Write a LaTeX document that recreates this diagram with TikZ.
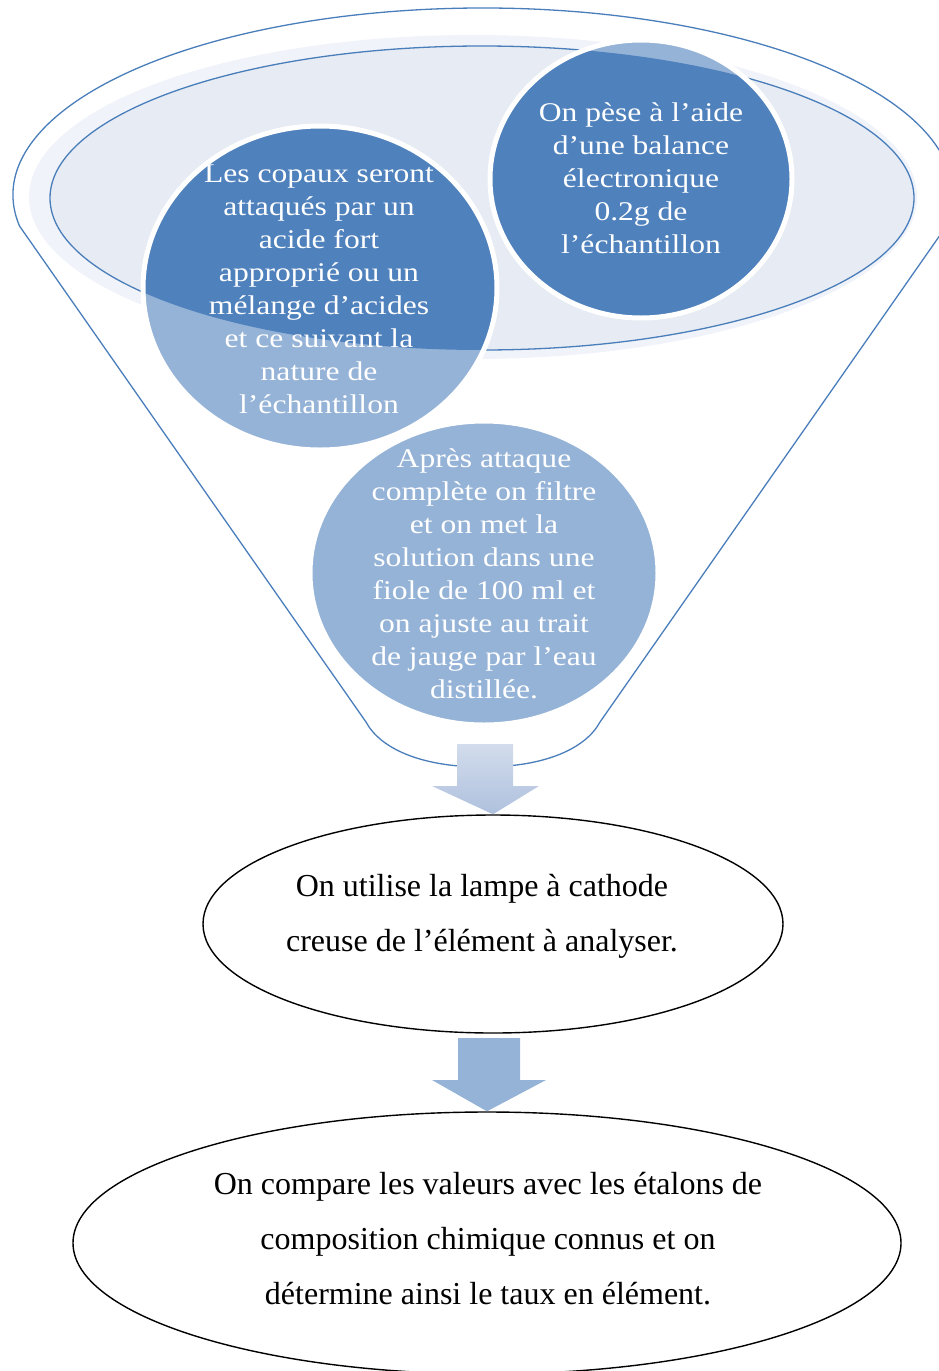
\documentclass[tikz,border=0pt]{standalone}
\usepackage{fontspec}
\setmainfont{Liberation Serif}
\newfontfamily\funnelfont[FakeStretch=1.17]{Liberation Serif}
\usetikzlibrary{shapes.geometric}
\definecolor{dk}{HTML}{4F81BD}
\definecolor{lt}{HTML}{95B3D7}
\definecolor{ellfill}{HTML}{E6EBF4}
\definecolor{halo}{HTML}{F0F3F9}
\definecolor{ln}{HTML}{4A7EBB}
\definecolor{arA}{HTML}{D2DCEC}
\definecolor{arB}{HTML}{AFC1DE}
\tikzset{
  funneltext/.style={text=white, align=center, inner sep=0pt,
    font=\funnelfont\fontsize{27}{33}\selectfont},
  steptext/.style={text=black, align=center, inner sep=0pt,
    font=\fontsize{32}{55}\selectfont},
  stepell/.style={ellipse, draw=black, line width=1.4pt, inner sep=0pt},
  rimline/.style={draw=ln, line width=1.3pt},
  whiteborder/.style={draw=white, line width=5pt},
}
\begin{document}
\begin{tikzpicture}[x=1pt,y=-1pt]
\useasboundingbox (0,0) rectangle (939,1371);
\clip (0,0) rectangle (939,1371);

% halo and inner ellipse of the funnel rim
\fill[halo] (473,197) ellipse [x radius=444, y radius=162];
\fill[ellfill] (482,198) ellipse [x radius=432, y radius=152];
\draw[rimline] (482,198) ellipse [x radius=432, y radius=152];

% funnel outline
\coordinate (fl) at (19.5,226);
\coordinate (fr) at (946.5,226);
\coordinate (bl) at (366,722);
\coordinate (br) at (600,722);
\coordinate (bm) at (483,767);
\draw[rimline] (fl) arc[start angle=170.45, end angle=369.55, x radius=470, y radius=187]
  -- (br) .. controls (586,748) and (546,767) .. (bm)
  .. controls (420,767) and (380,748) .. (bl) -- cycle;

% circles (light part)
\fill[lt] (641,179) ellipse [x radius=151, y radius=139];
\fill[lt] (320,288) ellipse [x radius=177, y radius=162];
% dark parts inside the rim ellipse
\begin{scope}
  \clip (482,198) ellipse [x radius=432, y radius=152];
  \fill[dk] (641,179) ellipse [x radius=151, y radius=139];
  \fill[dk] (320,288) ellipse [x radius=177, y radius=162];
\end{scope}
\draw[whiteborder] (641,179) ellipse [x radius=151, y radius=139];
\draw[whiteborder] (320,288) ellipse [x radius=177, y radius=162];
% third circle
\filldraw[fill=lt, whiteborder] (484,573) ellipse [x radius=174, y radius=152];

% circle texts
\node[funneltext] (t1) at (319,289) {Les copaux seront\\attaqués par un\\acide fort\\approprié ou un\\mélange d’acides\\et ce suivant la\\nature de\\l’échantillon};
\node[funneltext] (t2) at (641,178) {On pèse à l’aide\\d’une balance\\électronique\\0.2g de\\l’échantillon};
\node[funneltext] (t3) at (484,574) {Après attaque\\complète on filtre\\et on met la\\solution dans une\\fiole de 100 ml et\\on ajuste au trait\\de jauge par l’eau\\distillée.};

% step ellipses
\node[stepell, minimum width=580pt, minimum height=218pt] (m) at (493,924) {};
\node[steptext] (mt) at (482,916) {On utilise la lampe à cathode\\creuse de l’élément à analyser.};
\node[stepell, minimum width=828pt, minimum height=262pt] (b) at (487,1243) {};
\node[steptext] (bt) at (488,1239) {On compare les valeurs avec les étalons de\\composition chimique connus et on\\détermine ainsi le taux en élément.};

% block arrows
\shade[top color=arA, bottom color=arB]
  (457,744) -- (513,744) -- (513,786) -- (539,786) -- (m.north) -- (432,786) -- (457,786) -- cycle;
\fill[lt]
  (458,1038) -- (520,1038) -- (520,1080) -- (546,1080) -- (b.north) -- (432,1080) -- (458,1080) -- cycle;
\end{tikzpicture}
\end{document}
